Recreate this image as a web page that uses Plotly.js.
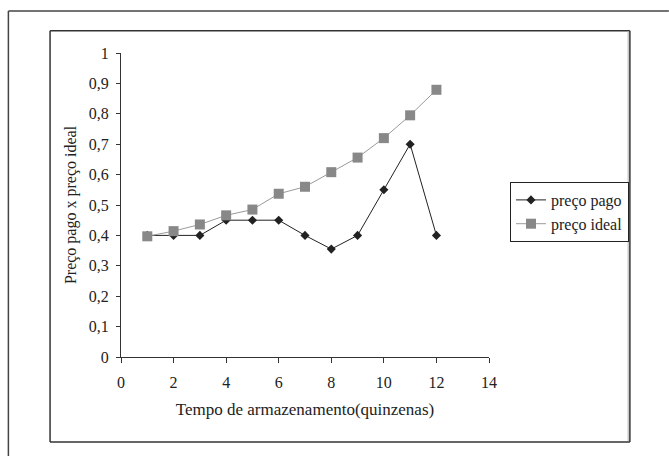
<!DOCTYPE html>
<html>
<head>
<meta charset="utf-8">
<script src="https://cdn.plot.ly/plotly-3.0.1.min.js"></script>
<style>html,body{margin:0;padding:0;background:#fff;overflow:hidden;}#chart{width:669px;height:456px;}</style>
</head>
<body>
<div id="chart"></div>
<script>
const quinzenas = [1, 2, 3, 4, 5, 6, 7, 8, 9, 10, 11, 12];
const precoPago = [0.4, 0.4, 0.4, 0.45, 0.45, 0.45, 0.4, 0.355, 0.4, 0.55, 0.7, 0.4];
const precoIdeal = [0.397, 0.414, 0.436, 0.466, 0.485, 0.537, 0.56, 0.608, 0.656, 0.72, 0.795, 0.879];
const seriesNames = ['preço pago', 'preço ideal'];

const serif = "'Liberation Serif', 'Times New Roman', serif";

const traces = [
  {
    x: quinzenas, y: precoPago, name: seriesNames[0], type: 'scatter', mode: 'lines+markers',
    line: {color: '#222222', width: 1},
    marker: {symbol: 'diamond', size: 7, color: '#222222'}
  },
  {
    x: quinzenas, y: precoIdeal, name: seriesNames[1], type: 'scatter', mode: 'lines+markers',
    line: {color: '#9a9a9a', width: 1},
    marker: {symbol: 'square', size: 10, color: '#888888'}
  }
];

// plot area in pixels: x 120.7..489, y 53..357
const L = 120.7, R = 489, T = 53, B = 357;
const px = v => (v - L) / (R - L);
const py = v => (B - v) / (B - T);

const line = (x0, y0, x1, y1, color, width) => ({
  type: 'line', xref: 'paper', yref: 'paper',
  x0: px(x0), y0: py(y0), x1: px(x1), y1: py(y1),
  line: {color: color, width: width}, layer: 'below'
});

const layout = {
  width: 669, height: 456,
  margin: {l: L, r: 669 - R, t: T, b: 456 - B, pad: 0},
  paper_bgcolor: '#ffffff', plot_bgcolor: '#ffffff',
  separators: ',.',
  font: {family: serif, size: 16, color: '#222222'},
  showlegend: true,
  legend: {
    x: px(510), y: py(182), xanchor: 'left', yanchor: 'top',
    bordercolor: '#222222', borderwidth: 1, bgcolor: '#ffffff',
    font: {family: serif, size: 16, color: '#222222'},
    tracegroupgap: 0, itemwidth: 30
  },
  xaxis: {
    range: [0, 14], dtick: 2, tick0: 0,
    showgrid: false, zeroline: false,
    showline: true, linecolor: '#333333', linewidth: 1,
    ticks: 'outside', ticklen: 5, tickcolor: '#333333', tickwidth: 1,
    ticklabelstandoff: 6,
    tickfont: {family: serif, size: 16, color: '#222222'},
    title: {text: 'Tempo de armazenamento(quinzenas)', font: {family: serif, size: 17, color: '#222222'}, standoff: 12}
  },
  yaxis: {
    range: [0, 1], dtick: 0.1, tick0: 0,
    showgrid: false, zeroline: false,
    showline: true, linecolor: '#333333', linewidth: 1,
    ticks: 'outside', ticklen: 4, tickcolor: '#333333', tickwidth: 1,
    ticklabelstandoff: 4,
    tickfont: {family: serif, size: 16, color: '#222222'},
    title: {text: 'Preço pago x preço ideal', font: {family: serif, size: 16, color: '#222222'}, standoff: 8}
  },
  shapes: [
    // outer frame (only top and left edges visible)
    line(8, 11, 669, 11, '#444444', 1.5),
    line(8, 11, 8, 456, '#444444', 1.5),
    // inner frame
    line(49.7, 30.7, 630, 30.7, '#333333', 1.5),
    line(49.7, 442, 630, 442, '#333333', 1.5),
    line(49.7, 30.7, 49.7, 442, '#333333', 1.5),
    line(630, 30.7, 630, 442, '#333333', 1.5),
    line(628.3, 31.5, 628.3, 441, '#bbbbbb', 1.2)
  ]
};

Plotly.newPlot('chart', traces, layout, {displayModeBar: false, staticPlot: true});
</script>
</body>
</html>
